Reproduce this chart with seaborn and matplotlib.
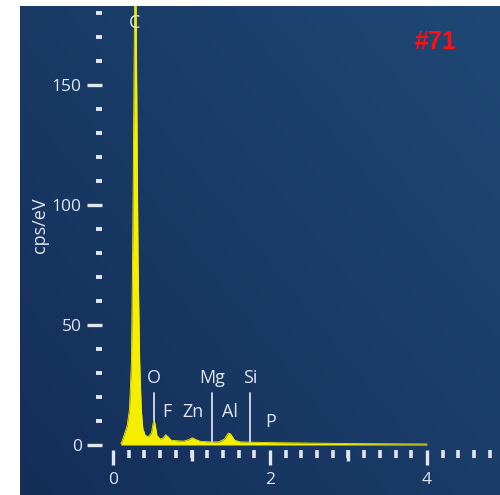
import numpy as np
import pandas as pd
import matplotlib.pyplot as plt
import seaborn as sns
from matplotlib.ticker import MultipleLocator, FixedLocator

# Spectrum (energy in keV, counts in cps/eV)
energy_kev = [0.10, 0.12, 0.15, 0.18, 0.21, 0.235, 0.25, 0.26, 0.27, 0.28,
              0.29, 0.30, 0.31, 0.32, 0.34, 0.36, 0.38, 0.41, 0.45, 0.49,
              0.51, 0.525, 0.54, 0.56, 0.60, 0.64, 0.67, 0.70, 0.74, 0.80,
              0.90, 0.96, 1.01, 1.06, 1.12, 1.25, 1.35, 1.42, 1.47, 1.50,
              1.55, 1.62, 1.74, 2.00, 2.50, 3.00, 3.50, 4.00]
counts = [0.5, 2.0, 5.0, 8.0, 15.0, 35.0, 80.0, 120.0, 165.0, 200.0,
          200.0, 160.0, 115.0, 75.0, 35.0, 15.0, 7.0, 4.0, 3.5, 5.0,
          9.0, 10.5, 8.0, 4.0, 2.5, 3.0, 4.3, 3.5, 2.0, 1.8,
          1.6, 2.2, 3.0, 2.2, 1.5, 1.3, 1.3, 2.5, 5.0, 4.5,
          2.0, 1.3, 1.2, 1.0, 0.8, 0.6, 0.5, 0.4]

# Element identification
elements = ['C', 'O', 'F', 'Zn', 'Mg', 'Al', 'Si', 'P']
element_kev = [0.28, 0.525, 0.69, 1.02, 1.26, 1.49, 1.745, 2.01]
label_y = [176, 28, 13.8, 13.8, 28, 13.8, 28, 9.6]
marker_elements = ['O', 'Mg', 'Si']
marker_kev = [0.525, 1.26, 1.745]
marker_low = [10.5, 1.2, 1.1]
marker_high = [21.7, 21.7, 21.7]

df = pd.DataFrame({'energy': energy_kev, 'cps': counts})

sns.set_theme(style='dark')
plt.rcParams['font.family'] = ['Open Sans', 'DejaVu Sans']

fig = plt.figure(figsize=(5, 4.95), dpi=100)
fig.patch.set_facecolor('white')

# gradient panel background
bg = fig.add_axes([20 / 500, 0, 480 / 500, 489 / 495])
gx, gy = np.meshgrid(np.linspace(0, 1, 200), np.linspace(0, 1, 200))
t = 0.55 * gx + 0.45 * gy
c0 = np.array([20, 46, 88]) / 255
c1 = np.array([31, 72, 118]) / 255
img = c0[None, None, :] * (1 - t[..., None]) + c1[None, None, :] * t[..., None]
bg.imshow(img, origin='lower', aspect='auto', extent=[0, 1, 0, 1])
bg.set_axis_off()

rect = [113 / 500, 50 / 495, 387 / 500, 439 / 495]
xmax = 387 / 78.5
ax = fig.add_axes(rect)
ax.set_facecolor('none')
fg = '#dfe6f0'

ax.fill_between(df['energy'], df['cps'], color='#f6ee00', lw=0, zorder=2)
sns.lineplot(data=df, x='energy', y='cps', ax=ax, color='#f6ee00', lw=0.6, zorder=3)

for k, lo, hi in zip(marker_kev, marker_low, marker_high):
    ax.plot([k, k], [lo, hi], color='#c9d1dc', lw=1.4, zorder=4)

for el, k, y in zip(elements, element_kev, label_y):
    ax.text(k, y, el, color=fg, fontsize=13, ha='center', va='center', zorder=5)

ax.set_xlim(0, xmax)
ax.set_ylim(0, 439 / 2.4)
ax.grid(False)
for s in ax.spines.values():
    s.set_color('none')
ax.spines['left'].set_position(('outward', 8))
ax.spines['bottom'].set_position(('outward', 3.6))

ax.yaxis.set_major_locator(FixedLocator([0, 50, 100, 150]))
ax.yaxis.set_minor_locator(MultipleLocator(10))
ax.xaxis.set_major_locator(FixedLocator([0, 2, 4]))
ax.xaxis.set_minor_locator(MultipleLocator(0.2))
ax.tick_params(which='both', direction='out', color=fg, labelcolor=fg,
               labelsize=12.5, left=True, bottom=True)
ax.tick_params(axis='y', which='major', length=10.8, width=2.4, pad=3.6)
ax.tick_params(axis='y', which='minor', length=4.3, width=2.8)
ax.tick_params(axis='x', which='major', length=10.8, width=2.4, pad=5.0)
ax.tick_params(axis='x', which='minor', length=5.4, width=2.6)

ax.set_xlabel('')
ax.set_ylabel('cps/eV', color=fg, fontsize=13)
ax.yaxis.set_label_coords(-0.165, 0.5)

# medium ticks at 1 and 3 keV on an overlay axes
ax2 = fig.add_axes(rect)
ax2.set_facecolor('none')
ax2.grid(False)
ax2.set_xlim(0, xmax)
for s in ax2.spines.values():
    s.set_color('none')
ax2.spines['bottom'].set_position(('outward', 3.6))
ax2.xaxis.set_major_locator(FixedLocator([1, 3]))
ax2.xaxis.set_minor_locator(FixedLocator([]))
ax2.tick_params(axis='x', which='major', direction='out', length=8.0, width=2.4,
                color=fg, labelbottom=False, bottom=True)
ax2.tick_params(axis='y', left=False, labelleft=False)

fig.text(436 / 500, 1 - 42 / 495, '#71', color='#ff1010', fontsize=18,
         fontweight='bold', family='Liberation Sans', ha='center', va='center')

fig.savefig('out.png', dpi=100)
